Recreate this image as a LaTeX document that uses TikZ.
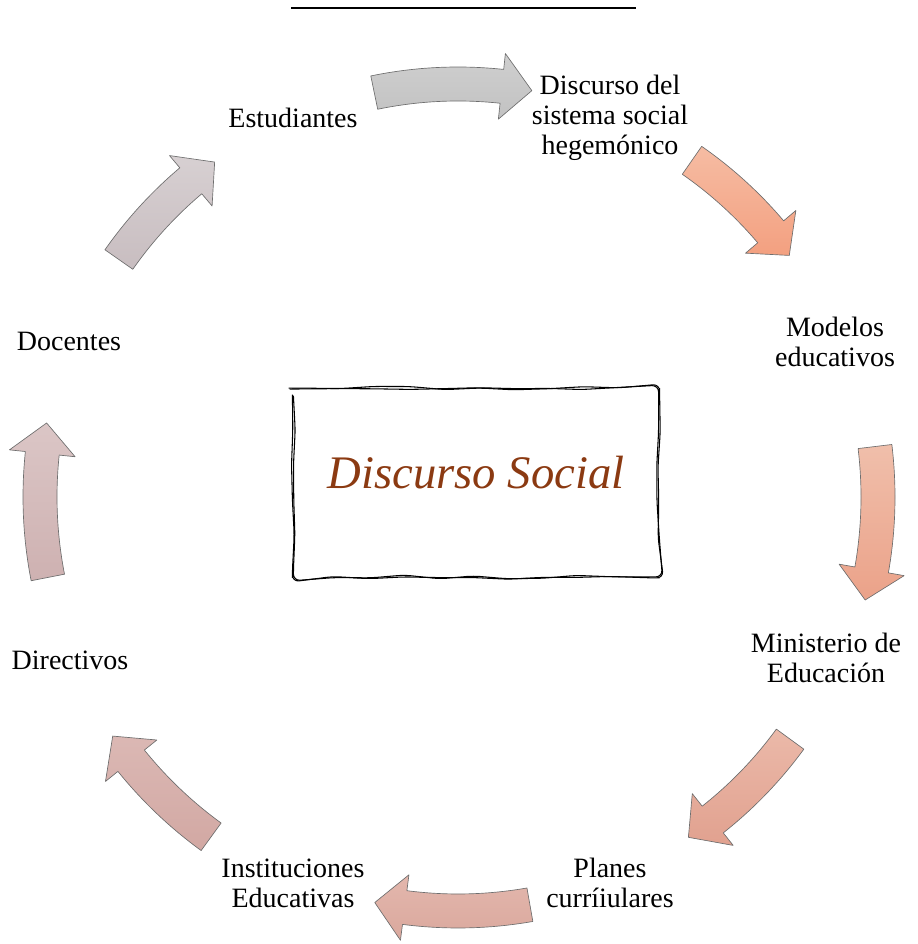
\documentclass[tikz,border=0pt]{standalone}
\usepackage{fontspec}
\setmainfont{Liberation Serif}
\usetikzlibrary{decorations.pathmorphing,calc}

\definecolor{titulo}{HTML}{8B3A12}
\definecolor{borde}{HTML}{6E6E6E}
\definecolor{ga}{HTML}{CFCFCF}\definecolor{gb}{HTML}{C2C2C2}
\definecolor{sa}{HTML}{F6BCA3}\definecolor{sb}{HTML}{F3A080}
\definecolor{ra}{HTML}{F0BFAB}\definecolor{rb}{HTML}{EBA289}
\definecolor{la}{HTML}{EBB9A9}\definecolor{lb}{HTML}{E1A18F}
\definecolor{ba}{HTML}{E3B7AD}\definecolor{bb}{HTML}{DAA89D}
\definecolor{ia}{HTML}{DBB8B4}\definecolor{ib}{HTML}{D2A8A3}
\definecolor{da}{HTML}{DBC6C6}\definecolor{db}{HTML}{CEB1B1}
\definecolor{ua}{HTML}{D7D0D2}\definecolor{ub}{HTML}{C8BDC0}

% curved block arrow on the cycle: start angle, tip angle, radius, colours
\newcommand{\flecha}[5]{%
  \pgfmathsetmacro{\fa}{#1}\pgfmathsetmacro{\fb}{#2}
  \pgfmathsetmacro{\fm}{#2-4.2*sign(#2-#1)}
  \pgfmathsetmacro{\ro}{#3+17}\pgfmathsetmacro{\ri}{#3-17}
  \pgfmathsetmacro{\ho}{#3+33}\pgfmathsetmacro{\hi}{#3-33}
  \draw[flecha, top color=#4, bottom color=#5]
    (\fa:\ro) arc[start angle=\fa, end angle=\fm, radius=\ro]
    -- (\fm:\ho) -- (\fb:#3) -- (\fm:\hi) -- (\fm:\ri)
    arc[start angle=\fm, end angle=\fa, radius=\ri] -- cycle;}

\begin{document}
\begin{tikzpicture}[x=0.75pt,y=0.75pt]
	\tikzstyle{every node}=[font=\fontsize{21}{22.5}\selectfont, align=center]
	\tikzstyle{flecha}=[draw=borde, line width=0.5pt, line join=round]
	\tikzstyle{marco}=[minimum width=275pt, minimum height=142pt, inner sep=0pt]
	\tikzstyle{boceto}=[line width=0.8pt, rounded corners=5pt, decorate,
		decoration={random steps, segment length=26pt, amplitude=1.4pt}]
	\useasboundingbox (0,0) rectangle (917,944);
	
	% rule on top
	\coordinate (l1) at (291,936);
	\coordinate (l2) at (636,936);
	\draw[line width=0.9pt] (l1) -- (l2);
	
	% labels
	\node (est) at (293,826) {Estudiantes};
	\node (dis) at (610,826) {Discurso del\\sistema social\\hegemónico};
	\node (mod) at (835,602) {Modelos\\educativos};
	\node (min) at (826,286) {Ministerio de\\Educación};
	\node (pla) at (610,61) {Planes\\curríiulares};
	\node (ins) at (293,61) {Instituciones\\Educativas};
	\node (dir) at (70,284) {Directivos};
	\node (doc) at (69,603) {Docentes};
	
	% centre box
	\node[marco] (ds) at (476,461) {};
	\pgfmathsetseed{7}
	\draw[boceto] (ds.north west) rectangle (ds.south east);
	\draw[boceto] ($(ds.north west)+(1,-1)$) rectangle ($(ds.south east)+(-1,1)$);
	\node[font=\fontsize{35}{40}\selectfont\itshape, text=titulo] (tit)
		at ($(ds)+(0,10)$) {Discurso Social};
	
	% arrows
	\begin{scope}[shift={(458,447)}]
		\flecha{101.7}{79.7}{413}{ga}{gb}
		\flecha{55.2}{36.1}{410}{sa}{sb}
		\flecha{6.9}{-14.2}{420}{ra}{rb}
		\flecha{-36.1}{-55.9}{411}{la}{lb}
		\flecha{-80}{-101.6}{414}{ba}{bb}
		\flecha{-126}{-145.3}{420}{ia}{ib}
		\flecha{191.1}{169.8}{418}{da}{db}
		\flecha{145}{126}{414}{ua}{ub}
	\end{scope}
\end{tikzpicture}
\end{document}
